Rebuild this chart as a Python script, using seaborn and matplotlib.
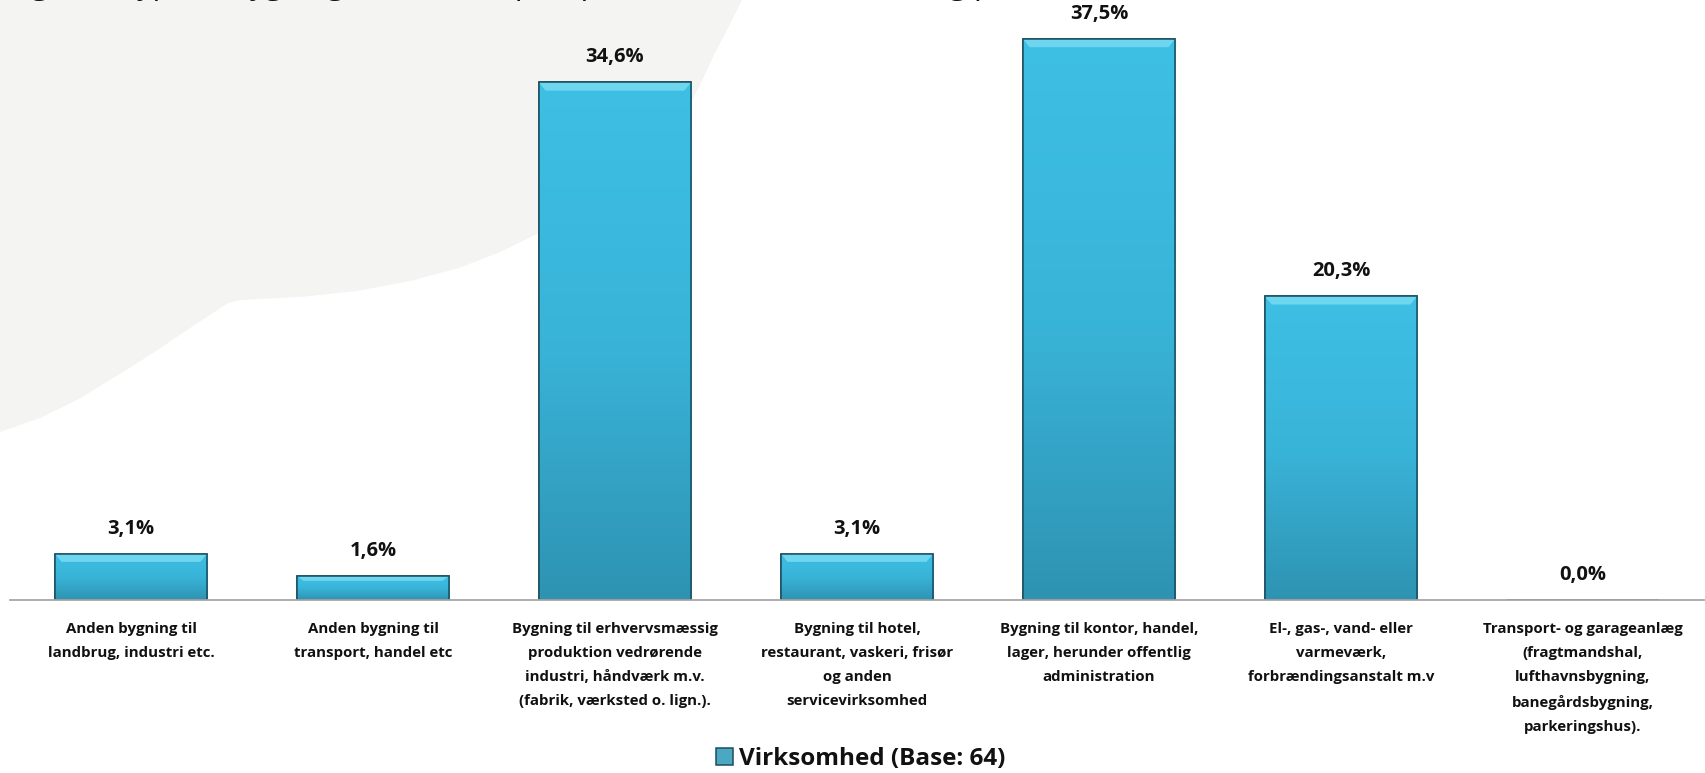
import numpy as np
import pandas as pd
import matplotlib
matplotlib.use("Agg")
import matplotlib.pyplot as plt
import seaborn as sns
from matplotlib.patches import Polygon, Rectangle

# --- data ------------------------------------------------------------------
categories = [
    "Anden bygning til\nlandbrug, industri etc.",
    "Anden bygning til\ntransport, handel etc",
    "Bygning til erhvervsmæssig\nproduktion vedrørende\nindustri, håndværk m.v.\n(fabrik, værksted o. lign.).",
    "Bygning til hotel,\nrestaurant, vaskeri, frisør\nog anden\nservicevirksomhed",
    "Bygning til kontor, handel,\nlager, herunder offentlig\nadministration",
    "El-, gas-, vand- eller\nvarmeværk,\nforbrændingsanstalt m.v",
    "Transport- og garageanlæg\n(fragtmandshal,\nlufthavnsbygning,\nbanegårdsbygning,\nparkeringshus).",
]
values = [3.1, 1.6, 34.6, 3.1, 37.5, 20.3, 0.0]
series_name = "Virksomhed (Base: 64)"
title = "Figur 6, Type af bygning hvor varmepumpen er installeret, fordeling på sektor (%, virksomheder)"

df = pd.DataFrame({"Kategori": categories, "Andel": values, "Serie": series_name})

W, H = 1705, 773
sns.set_theme(style="white")
plt.rcParams["font.family"] = ["Open Sans", "DejaVu Sans"]

fig = plt.figure(figsize=(W / 100, H / 100), dpi=100)
fig.patch.set_facecolor("white")

# light grey speech-bubble decoration in the upper left (pixel outline)
blob = [(742, 0), (728, 28), (714, 55), (700, 85), (686, 112), (662, 140), (638, 165),
        (592, 200), (541, 232), (500, 252), (459, 268), (410, 281), (357, 291),
        (300, 297), (240, 300), (228, 303), (190, 328), (153, 353), (115, 377),
        (77, 400), (40, 418), (0, 432), (0, 0)]
fig.patches.append(Polygon([(x / W, 1 - y / H) for x, y in blob], closed=True,
                           transform=fig.transFigure, facecolor="#f4f4f2",
                           edgecolor="none", zorder=-5))

ax = fig.add_axes([10 / W, 173 / H, 1694 / W, 598.4 / H])
ax.set_facecolor("none")

sns.barplot(data=df, x="Kategori", y="Andel", hue="Serie", palette=["#38b2d6"],
            width=0.63, edgecolor="#1a4e5f", linewidth=1.1, ax=ax, zorder=2)

# gradient fill + bevelled top for each bar
grad = np.linspace(0, 1, 256).reshape(-1, 1)
cmap = matplotlib.colors.LinearSegmentedColormap.from_list(
    "bar", ["#3ebfe4", "#39b4d9", "#2e93b2"])
bars = [p for p in ax.patches if isinstance(p, Rectangle) and p.get_height() > 0]
for p in bars:
    x0, w, h = p.get_x(), p.get_width(), p.get_height()
    im = ax.imshow(grad, extent=[x0, x0 + w, 0, h], origin="upper", aspect="auto",
                   cmap=cmap, zorder=2.1, interpolation="bilinear")
    im.set_clip_path(p)
    bev = min(0.55, h * 0.2)
    dx = w * 0.045
    ax.add_patch(Polygon([(x0, h), (x0 + w, h), (x0 + w - dx, h - bev), (x0 + dx, h - bev)],
                         closed=True, facecolor="#6fd6f0", edgecolor="none", zorder=2.2))
    ax.add_patch(Rectangle((x0, 0), w, h, facecolor="none", edgecolor="#1a4e5f",
                           linewidth=1.1, zorder=2.3))
ax.set_xlim(-0.5, len(categories) - 0.5)
ax.set_ylim(0, 40)

# value labels
for i, v in enumerate(values):
    ax.annotate(f"{v:.1f}%".replace(".", ","), (i, v), xytext=(0, 18),
                textcoords="offset points", ha="center", va="center",
                fontsize=14.5, fontweight="bold", color="#111111")

sns.despine(ax=ax, left=True, top=True, right=True)
ax.spines["bottom"].set_color("#a6a6a6")
ax.spines["bottom"].set_linewidth(1.3)
ax.set_yticks([])
ax.set_xlabel("")
ax.set_ylabel("")
ax.tick_params(axis="x", length=0, pad=16)
for lab in ax.get_xticklabels():
    lab.set_fontsize(10.8)
    lab.set_fontweight("bold")
    lab.set_linespacing(1.9)
    lab.set_color("#111111")

sns.move_legend(ax, "center", bbox_to_anchor=(861 / W, (H - 759) / H),
                bbox_transform=fig.transFigure, frameon=False, title=None,
                fontsize=17.5, handlelength=0.7, handleheight=0.7, handletextpad=0.25)
for txt in ax.get_legend().get_texts():
    txt.set_fontweight("bold")
    txt.set_color("#111111")

# title, cut off at the top edge as in the reference
fig.text(8 / W, 1 + 6 / H, title, ha="left", va="baseline", fontsize=22, color="#111111")

fig.savefig("out.png", dpi=100, facecolor=fig.get_facecolor())
